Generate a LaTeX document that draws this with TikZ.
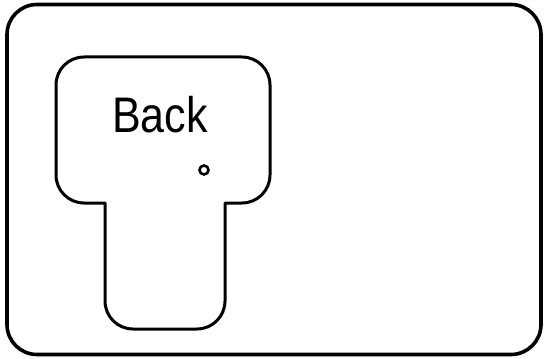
\documentclass[tikz,border=0pt]{standalone}
\usepackage{fontspec}
\setmainfont{Liberation Sans}
\begin{document}
\begin{tikzpicture}[x=1pt,y=1pt,
  frame/.style={line width=3.6pt, rounded corners=30},
  keyshape/.style={line width=3pt, line join=round},
  label/.style={inner sep=0pt, font=\fontsize{50}{60}\selectfont, xscale=0.86},
  hole/.style={circle, draw, line width=2.6pt, minimum size=9pt, inner sep=0pt}]
\useasboundingbox (0,0) rectangle (545,-358);
\draw[frame] (7,-4.5) rectangle (541,-354.5);
\draw[keyshape] (105,-203) -- (84,-203)
  arc[start angle=270, end angle=180, radius=28] -- (56,-85)
  arc[start angle=180, end angle=90, radius=28] -- (242,-57)
  arc[start angle=90, end angle=0, radius=28] -- (270,-175)
  arc[start angle=0, end angle=-90, radius=28] -- (225,-203)
  -- (225,-301)
  arc[start angle=0, end angle=-90, radius=28] -- (133,-329)
  arc[start angle=270, end angle=180, radius=28] -- cycle;
\node[label] (back) at (160,-115) {Back};
\node[hole] (hole) at (204,-170) {};
\end{tikzpicture}
\end{document}
